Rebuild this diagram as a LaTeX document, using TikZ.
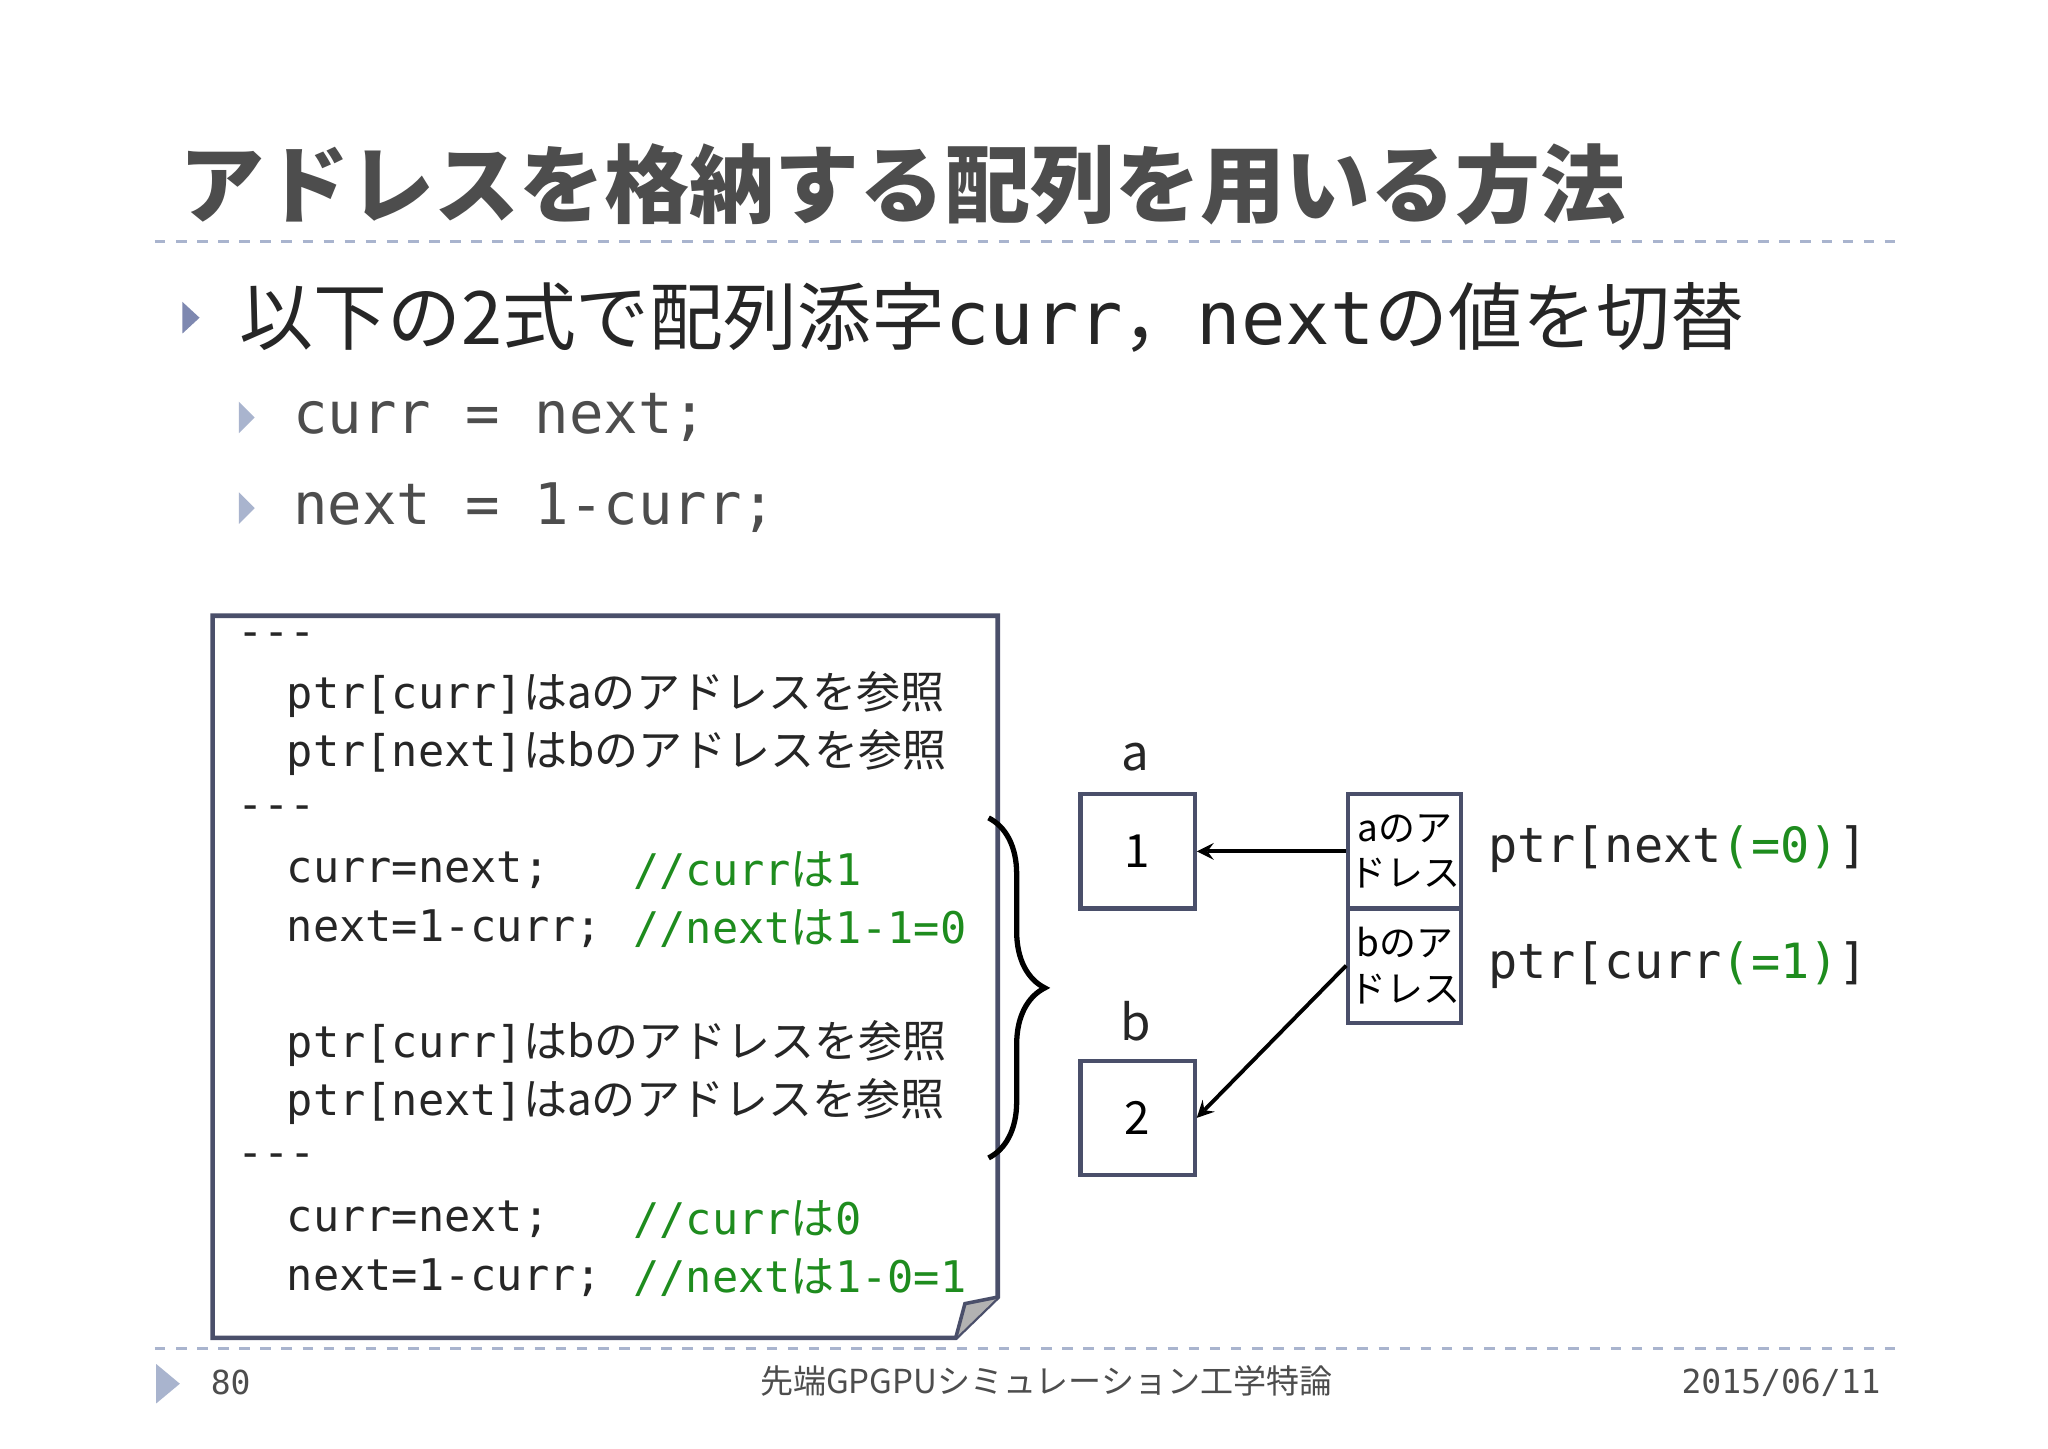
\documentclass[tikz,border=0pt]{standalone}
\usepackage{fontspec}
\setmainfont{Noto Sans CJK JP}
\setmonofont{DejaVu Sans Mono}
\newfontfamily\jp{Noto Sans CJK JP}
\newfontfamily\jpc[Scale=1.01]{Noto Sans CJK JP}
\usetikzlibrary{decorations.pathreplacing}
\definecolor{txt}{HTML}{262626}
\definecolor{frame}{HTML}{4A4F6A}
\definecolor{tri}{HTML}{7E88B0}
\definecolor{tril}{HTML}{A9B4CE}
\definecolor{grn}{HTML}{1E8C1E}
\definecolor{ttl}{HTML}{4D4D4D}
\newcommand{\J}[1]{{\jpc #1}}
\tikzset{
 code/.style={anchor=west,inner sep=0pt,font=\fontsize{12.4}{14}\ttfamily,text=txt},
 cmt/.style={code,text=grn},
 cell/.style={draw=frame,line width=1.2pt,fill=white},
 ptrlab/.style={anchor=west,inner sep=0pt,font=\fontsize{13.8}{16}\ttfamily,text=txt},
 arr/.style={-stealth,line width=1.1pt,black},
 foot/.style={inner sep=0pt,font=\fontsize{9.4}{11}\selectfont,text=ttl},
}
\begin{document}
\begin{tikzpicture}[x=0.01313cm,y=-0.01313cm]
\useasboundingbox (0,0) rectangle (1560,1103);
\fill[white] (0,0) rectangle (1560,1103);
% title
\node[anchor=west,inner sep=0pt,font=\fontsize{24.2}{28}\bfseries\jp,text=ttl] (title) at (136,140) {アドレスを格納する配列を用いる方法};
\draw[dashed,tril,line width=0.8pt] (118,184) -- (1448,184);
% bullets
\fill[tri] (139,230) -- (152,242) -- (139,254) -- cycle;
\node[anchor=west,inner sep=0pt,font=\fontsize{21}{24}\selectfont,text=txt] (b1) at (182,242) {以下の2式で配列添字\texttt{curr}，\texttt{next}の値を切替};
\fill[tril] (182,306) -- (194,318) -- (182,330) -- cycle;
\fill[tril] (182,375) -- (194,387) -- (182,399) -- cycle;
\node[anchor=west,inner sep=0pt,font=\fontsize{16.3}{20}\ttfamily,text=ttl] (s1) at (223,318) {curr = next;};
\node[anchor=west,inner sep=0pt,font=\fontsize{16.3}{20}\ttfamily,text=ttl] (s2) at (223,387) {next = 1-curr;};
% code box
\draw[frame,line width=1.3pt,fill=white] (162,469) -- (760,469) -- (760,988) -- (728,1019) -- (162,1019) -- cycle;
\fill[gray!60] (760,988) -- (735,993) -- (728,1019) -- cycle;
\draw[frame,line width=1pt] (760,988) -- (735,993) -- (728,1019);
\node[code] (l0) at (180,487) {---};
\node[code] (l1) at (218,529) {ptr[curr]\J{はaのアドレスを参照}};
\node[code] (l2) at (218,573) {ptr[next]\J{はbのアドレスを参照}};
\node[code] (l3) at (180,619) {---};
\node[code] (l4) at (218,663) {curr=next;};
\node[cmt] (c4) at (482,663) {//curr\J{は}1};
\node[code] (l5) at (218,707) {next=1-curr;};
\node[cmt] (c5) at (482,707) {//next\J{は}1-1=0};
\node[code] (l6) at (218,795) {ptr[curr]\J{はbのアドレスを参照}};
\node[code] (l7) at (218,839) {ptr[next]\J{はaのアドレスを参照}};
\node[code] (l8) at (180,884) {---};
\node[code] (l9) at (218,929) {curr=next;};
\node[cmt] (c9) at (482,929) {//curr\J{は}0};
\node[code] (l10) at (218,973) {next=1-curr;};
\node[cmt] (c10) at (482,973) {//next\J{は}1-0=1};
% brace
\draw[black,line width=1.5pt,decorate,decoration={brace,amplitude=16pt}] (753,623) -- (753,882);
% cells
\node[cell,minimum width=87*0.01313cm,minimum height=87*0.01313cm,font=\fontsize{13}{16}\selectfont] (A) at (866.5,648.5) {1};
\node[cell,minimum width=87*0.01313cm,minimum height=87*0.01313cm,font=\fontsize{13}{16}\selectfont] (B) at (866.5,851.5) {2};
\node[font=\fontsize{14}{16}\selectfont,text=txt] (la) at (865,577) {a};
\node[font=\fontsize{14}{16}\selectfont,text=txt] (lb) at (865,778) {b};
\node[cell,minimum width=86*0.01313cm,minimum height=87*0.01313cm,inner sep=0pt,align=center,font=\fontsize{10.5}{13}\selectfont] (P0) at (1070,648.5) {aのア\\ドレス};
\node[cell,minimum width=86*0.01313cm,minimum height=87*0.01313cm,inner sep=0pt,align=center,font=\fontsize{10.5}{13}\selectfont] (P1) at (1070,735.5) {bのア\\ドレス};
\draw[arr] (P0.west) -- (A.east);
\draw[arr] (P1.west) -- (B.east);
\node[ptrlab] (n0) at (1133,647) {ptr[next\textcolor{grn}{(=0)}]};
\node[ptrlab] (n1) at (1133,735) {ptr[curr\textcolor{grn}{(=1)}]};
% footer
\draw[dashed,tril,line width=0.8pt] (118,1027) -- (1448,1027);
\fill[tril] (119,1039) -- (137,1054) -- (119,1069) -- cycle;
\node[foot,anchor=west,font=\fontsize{9.4}{11}\ttfamily] (pg) at (160,1053) {80};
\node[foot] (ct) at (797,1052) {先端GPGPUシミュレーション工学特論};
\node[foot,anchor=east,font=\fontsize{9.4}{11}\ttfamily] (dt) at (1433,1053) {2015/06/11};
\end{tikzpicture}
\end{document}
